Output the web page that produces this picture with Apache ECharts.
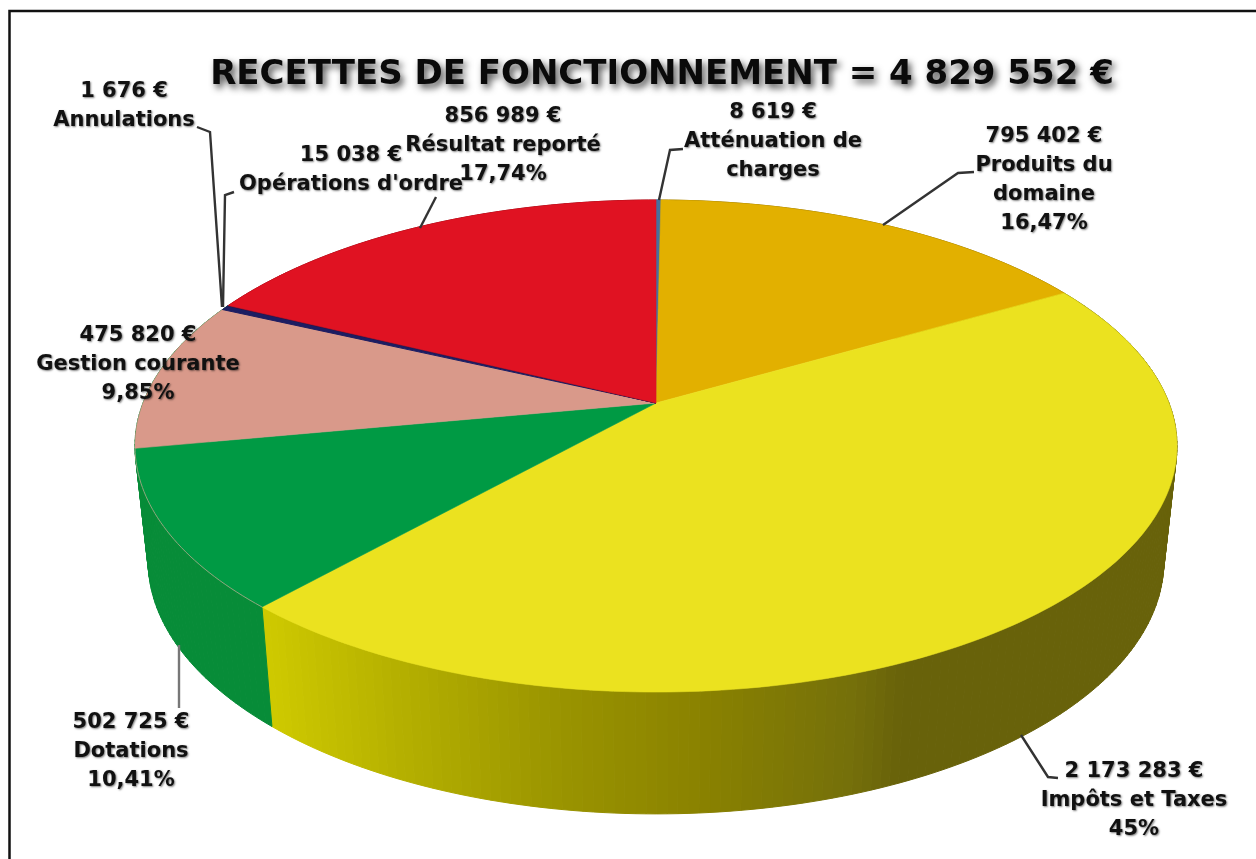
<!DOCTYPE html>
<html><head><meta charset="utf-8">
<style>html,body{margin:0;padding:0;background:#fff}#c{width:1256px;height:859px}</style>
<script src="https://cdn.jsdelivr.net/npm/echarts@6/dist/echarts.min.js"></script>
</head><body><div id="c"></div>
<script>
// ---- data (clockwise from 12 o'clock)
const categories = ["Atténuation de\ncharges","Produits du\ndomaine","Impôts et Taxes","Dotations","Gestion courante","Opérations d'ordre","Annulations","Résultat reporté"];
const values = [8619,795402,2173283,502725,475820,15038,1676,856989];
const valueLabels = ["8 619 €","795 402 €","2 173 283 €","502 725 €","475 820 €","15 038 €","1 676 €","856 989 €"];
const percentLabels = ["","16,47%","45%","10,41%","9,85%","","","17,74%"];
const titleText = "RECETTES DE FONCTIONNEMENT = 4 829 552 €";
// ---- style
const topColors = ["#46709e","#e2b000","#ebe21f","#009a44","#d9998a","#1c1d62","#2a1648","#e01222"];
const sideColors = ["#46709e","#8f7000",null,"#078c38","#078c38","#078c38","#078c38","#8f0a14"];
const yellowShadeX = [262,400,560,700,850,900,1180];
const yellowShadeC = ["#d0cb00","#b5b000","#9a9400","#8a8200","#75700a","#68620a","#68620a"];
// label layout: centre x, first-line centre y
const labelX = [773,1044,1134,131,138,351,124,503];
const labelY = [113,137,772,723,336,156,92,117];
const lineH = 28.7;
const leaders = [
 [[683,149],[670,150],[659,200]],
 [[974,172],[958,173],[883,225]],
 [[1058,778],[1048,777],[1021,735]],
 [[179,708],[179,645]],
 null,
 [[234,192],[225,195],[223,307]],
 [[197,127],[210,132],[222,307]],
 [[436,197],[420,228]]
];
// pie projection
const K = 0.1748;
const topP = {x:656,y:403,R:513,S:238.5};
const lowP = {x:656,y:517,R:500,S:245};
function proj(P,deg){
  const t=deg*Math.PI/180,u=Math.sin(t),v=-Math.cos(t),w=1-K*v;
  return [P.x+P.R*u/w,P.y+P.S*v/w];
}
const total = values.reduce((a,b)=>a+b,0);
const starts=[];let acc=0;
values.forEach(v=>{starts.push(acc/total*360);acc+=v;});
function range(i){return [starts[i],starts[i]+values[i]/total*360];}
function degs(a,b){const r=[];const n=Math.max(1,Math.ceil(b-a));for(let j=0;j<=n;j++)r.push(a+(b-a)*j/n);return r;}
function shade(x){
  for(let i=1;i<yellowShadeX.length;i++){
    if(x<=yellowShadeX[i]){
      const f=Math.max(0,(x-yellowShadeX[i-1])/(yellowShadeX[i]-yellowShadeX[i-1]));
      return echarts.color.lerp(f,[yellowShadeC[i-1],yellowShadeC[i]]);
    }
  }
  return yellowShadeC[yellowShadeC.length-1];
}
function renderSide(params,api){
  const i=params.dataIndex,[a,b]=range(i),ds=degs(a,b),children=[];
  for(let j=0;j<ds.length-1;j++){
    const p1=proj(topP,ds[j]),p2=proj(topP,ds[j+1]),q2=proj(lowP,ds[j+1]),q1=proj(lowP,ds[j]);
    const c=sideColors[i]||shade((p1[0]+p2[0]+q1[0]+q2[0])/4);
    children.push({type:'polygon',shape:{points:[p1,p2,q2,q1]},style:{fill:c,stroke:c,lineWidth:1}});
  }
  return {type:'group',children};
}
function renderTop(params,api){
  const i=params.dataIndex,[a,b]=range(i);
  const pts=[[topP.x,topP.y]].concat(degs(a,b).map(d=>proj(topP,d)));
  const thin=values[i]/total<0.01;
  const children=[{type:'polygon',shape:{points:pts},style:{fill:topColors[i],stroke:topColors[i],lineWidth:thin?1:0.6}}];
  if(categories[i]==="Dotations"){
    children.push({type:'polyline',shape:{points:degs(a,b).map(d=>proj(topP,d))},style:{fill:null,stroke:'#8fa67c',lineWidth:1}});
  }
  return {type:'group',children};
}
const labelStyle={fontFamily:'"DejaVu Sans"',fontWeight:'bold',fontSize:21,fill:'#111',align:'center',verticalAlign:'middle',
  textShadowColor:'rgba(0,0,0,0.5)',textShadowBlur:2,textShadowOffsetX:1,textShadowOffsetY:1};
const graphics=[
 {type:'rect',shape:{x:9.5,y:11,width:1300,height:900},style:{fill:null,stroke:'#111',lineWidth:2.5},silent:true}
];
leaders.forEach((pts,i)=>{
  if(!pts)return;
  graphics.push({type:'polyline',shape:{points:pts},z:5,style:{fill:null,stroke:categories[i]==="Dotations"?'#777':'#333',lineWidth:2.4}});
});
categories.forEach((c,i)=>{
  const lines=[valueLabels[i]].concat(c.split("\n"));
  if(percentLabels[i])lines.push(percentLabels[i]);
  lines.forEach((t,j)=>{
    graphics.push({type:'text',z:6,x:labelX[i],y:labelY[i]+j*lineH,style:Object.assign({text:t},labelStyle)});
  });
});
graphics.push({type:'text',z:7,x:662,y:75,style:{text:titleText,fontFamily:'"DejaVu Sans"',fontWeight:'bold',fontSize:34,fill:'#0a0a0a',align:'center',verticalAlign:'middle',
  textShadowColor:'rgba(0,0,0,0.7)',textShadowBlur:7,textShadowOffsetX:3,textShadowOffsetY:4}});
const chart=echarts.init(document.getElementById('c'),null,{renderer:'canvas'});
chart.setOption({
  animation:false,
  backgroundColor:'#fff',
  graphic:graphics,
  series:[
    {type:'custom',coordinateSystem:'none',silent:true,z:1,renderItem:renderSide,data:values},
    {type:'custom',coordinateSystem:'none',silent:true,z:2,renderItem:renderTop,data:values}
  ]
});
</script></body></html>
